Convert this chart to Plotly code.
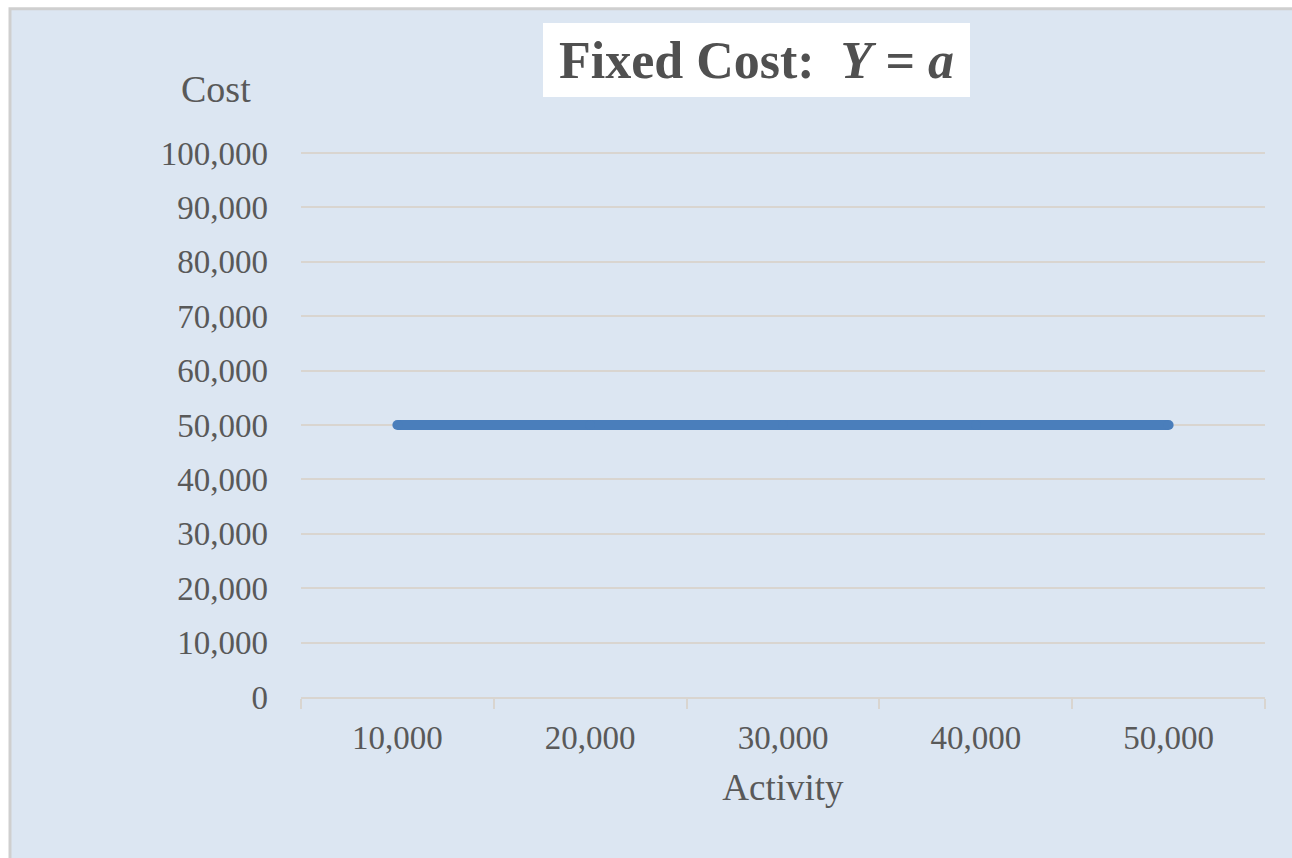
import plotly.graph_objects as go

activity_labels = ["10,000", "20,000", "30,000", "40,000", "50,000"]
fixed_cost = [50000, 50000, 50000, 50000, 50000]
y_ticks = [0, 10000, 20000, 30000, 40000, 50000, 60000, 70000, 80000, 90000, 100000]

W, H = 1292, 858
L, R, T, B = 301, 1265, 153, 697
pw, ph = R - L, B - T


def px(x):
    return (x - L) / pw


def py(y):
    return (B - y) / ph


FONT = "Liberation Serif, Times New Roman, serif"
TXT = "#595959"
GRID = "#d9d5d0"

fig = go.Figure()
fig.add_trace(go.Scatter(
    x=activity_labels, y=fixed_cost, mode="lines+markers",
    line=dict(color="#4a7ebb", width=10),
    marker=dict(color="#4a7ebb", size=10),
    showlegend=False, hoverinfo="skip",
))

fig.update_layout(
    width=W, height=H,
    margin=dict(l=L, r=W - R, t=T - 1, b=H - B, pad=0),
    paper_bgcolor="#ffffff",
    plot_bgcolor="rgba(0,0,0,0)",
    font=dict(family=FONT, size=33, color=TXT),
    xaxis=dict(
        type="category", range=[-0.5, 4.5],
        showgrid=False, zeroline=False,
        showline=True, linecolor=GRID, linewidth=2,
        ticks="outside", tickson="boundaries", ticklen=10, tickwidth=2, tickcolor=GRID,
        tickfont=dict(size=33, color=TXT),
        ticklabelstandoff=10,
        title=dict(text="Activity", font=dict(size=37, color=TXT), standoff=20),
        fixedrange=True,
    ),
    yaxis=dict(
        range=[0, 100200], tickvals=y_ticks, tickformat=",",
        showgrid=True, gridcolor=GRID, gridwidth=2,
        zeroline=False, showline=False, ticks="",
        tickfont=dict(size=33, color=TXT),
        ticklabelstandoff=32,
        fixedrange=True,
    ),
    shapes=[
        dict(type="rect", xref="paper", yref="paper", layer="below",
             x0=px(10), x1=px(1300), y0=py(10), y1=py(870),
             fillcolor="#dce6f2", line=dict(color="#cfcfcf", width=3)),
    ],
    annotations=[
        dict(text="Cost", xref="paper", yref="paper", x=px(216), y=py(90),
             xanchor="center", yanchor="middle", showarrow=False,
             font=dict(size=38, color=TXT, family=FONT)),
        dict(text="<b>Fixed Cost:  <i>Y</i> = <i>a</i></b>", xref="paper", yref="paper",
             x=px(756.5), y=py(61), xanchor="center", yanchor="middle", showarrow=False,
             width=427, height=74, bgcolor="#ffffff", borderpad=0, borderwidth=0,
             font=dict(size=52, color="#505050", family=FONT)),
    ],
)

fig.write_html("out.html")
